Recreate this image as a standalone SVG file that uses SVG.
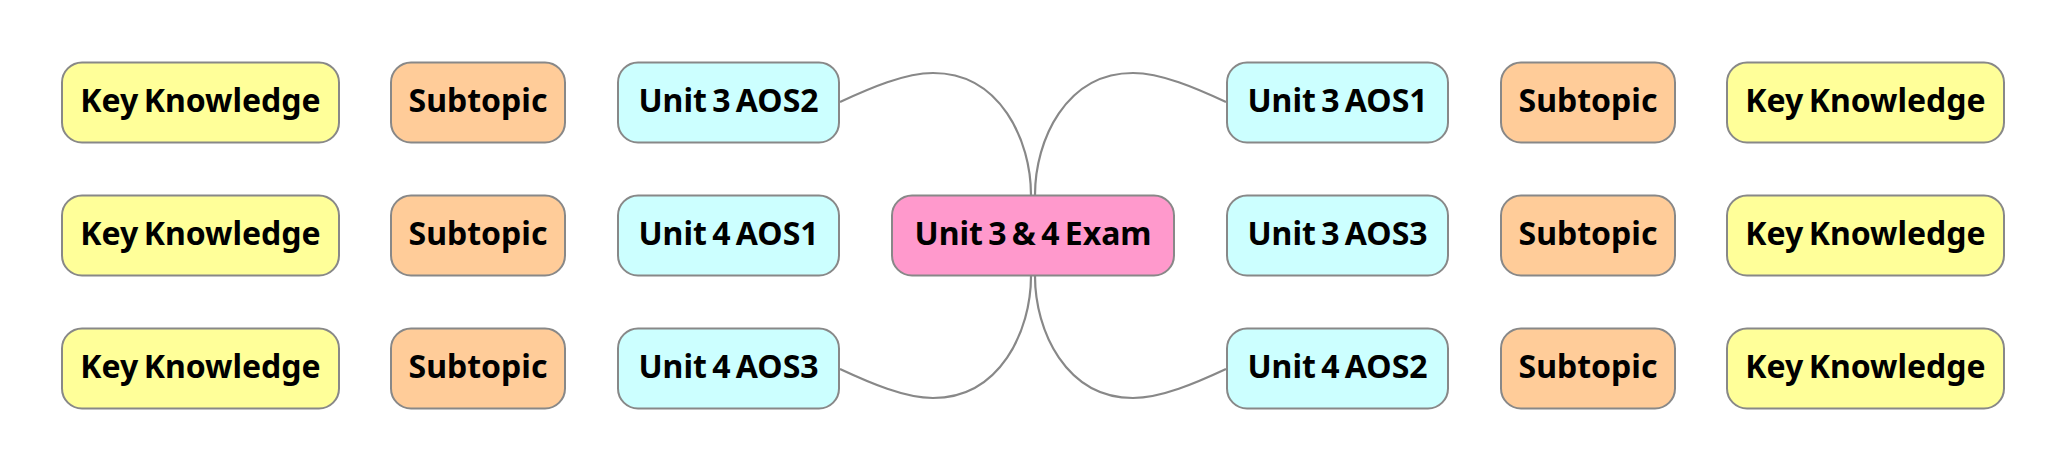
<svg xmlns="http://www.w3.org/2000/svg" width="2066" height="474" viewBox="0 0 2066 474">
<style>
.box{stroke:#888888;stroke-width:2}
.kk{fill:#FFFF99}
.st{fill:#FFCC99}
.ao{fill:#CCFFFF}
.root{fill:#FF99CC}
text{font-family:"Noto Sans",sans-serif;font-weight:bold;font-size:32px;fill:#000;text-anchor:middle;word-spacing:-3px}
.edge{fill:none;stroke:#888888;stroke-width:2.2}
</style>
<rect width="2066" height="474" fill="#ffffff"/>
<g id="connectors">
<path class="edge" d="M1031,195 C1031,140 1000,73 933,73 C905,73 870,88 840,102"/>
<path class="edge" d="M1035,195 C1035,140 1066,73 1133,73 C1161,73 1196,88 1226,102"/>
<path class="edge" d="M1031,276 C1031,331 1000,398 933,398 C905,398 870,383 840,369"/>
<path class="edge" d="M1035,276 C1035,331 1066,398 1133,398 C1161,398 1196,383 1226,369"/>
</g>
<g id="root"><rect class="box root" x="892" y="195.5" width="282" height="80" rx="20"/><text x="1033" y="244.5">Unit 3 &amp; 4 Exam</text></g>
<g id="u3aos2"><rect class="box ao" x="618" y="62.5" width="221" height="80" rx="20"/><text x="728.5" y="111.5">Unit 3 AOS2</text></g>
<g id="u4aos1"><rect class="box ao" x="618" y="195.5" width="221" height="80" rx="20"/><text x="728.5" y="244.5">Unit 4 AOS1</text></g>
<g id="u4aos3"><rect class="box ao" x="618" y="328.5" width="221" height="80" rx="20"/><text x="728.5" y="377.5">Unit 4 AOS3</text></g>
<g id="u3aos1"><rect class="box ao" x="1227" y="62.5" width="221" height="80" rx="20"/><text x="1337.5" y="111.5">Unit 3 AOS1</text></g>
<g id="u3aos3"><rect class="box ao" x="1227" y="195.5" width="221" height="80" rx="20"/><text x="1337.5" y="244.5">Unit 3 AOS3</text></g>
<g id="u4aos2"><rect class="box ao" x="1227" y="328.5" width="221" height="80" rx="20"/><text x="1337.5" y="377.5">Unit 4 AOS2</text></g>
<g id="st-l1"><rect class="box st" x="391" y="62.5" width="174" height="80" rx="20"/><text x="478" y="111.5">Subtopic</text></g>
<g id="st-l2"><rect class="box st" x="391" y="195.5" width="174" height="80" rx="20"/><text x="478" y="244.5">Subtopic</text></g>
<g id="st-l3"><rect class="box st" x="391" y="328.5" width="174" height="80" rx="20"/><text x="478" y="377.5">Subtopic</text></g>
<g id="st-r1"><rect class="box st" x="1501" y="62.5" width="174" height="80" rx="20"/><text x="1588" y="111.5">Subtopic</text></g>
<g id="st-r2"><rect class="box st" x="1501" y="195.5" width="174" height="80" rx="20"/><text x="1588" y="244.5">Subtopic</text></g>
<g id="st-r3"><rect class="box st" x="1501" y="328.5" width="174" height="80" rx="20"/><text x="1588" y="377.5">Subtopic</text></g>
<g id="kk-l1"><rect class="box kk" x="62" y="62.5" width="277" height="80" rx="20"/><text x="200.5" y="111.5">Key Knowledge</text></g>
<g id="kk-l2"><rect class="box kk" x="62" y="195.5" width="277" height="80" rx="20"/><text x="200.5" y="244.5">Key Knowledge</text></g>
<g id="kk-l3"><rect class="box kk" x="62" y="328.5" width="277" height="80" rx="20"/><text x="200.5" y="377.5">Key Knowledge</text></g>
<g id="kk-r1"><rect class="box kk" x="1727" y="62.5" width="277" height="80" rx="20"/><text x="1865.5" y="111.5">Key Knowledge</text></g>
<g id="kk-r2"><rect class="box kk" x="1727" y="195.5" width="277" height="80" rx="20"/><text x="1865.5" y="244.5">Key Knowledge</text></g>
<g id="kk-r3"><rect class="box kk" x="1727" y="328.5" width="277" height="80" rx="20"/><text x="1865.5" y="377.5">Key Knowledge</text></g>
</svg>
